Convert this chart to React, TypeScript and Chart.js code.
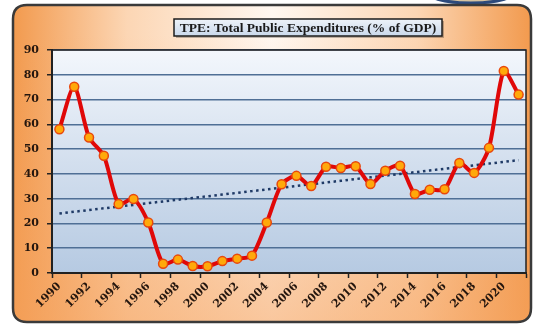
import { useEffect, useRef } from "react";
import { Chart, registerables } from "chart.js";

Chart.register(...registerables);

const TITLE = "TPE: Total Public Expenditures (% of GDP)";

const years = [
  "1990", "1991", "1992", "1993", "1994", "1995", "1996", "1997",
  "1998", "1999", "2000", "2001", "2002", "2003", "2004", "2005",
  "2006", "2007", "2008", "2009", "2010", "2011", "2012", "2013",
  "2014", "2015", "2016", "2017", "2018", "2019", "2020", "2021",
];

const tpe = [
  58.0, 75.2, 54.7, 47.3, 27.8, 29.9, 20.4, 3.7,
  5.4, 2.8, 2.7, 4.8, 5.8, 7.0, 20.4, 35.8,
  39.2, 35.1, 42.9, 42.4, 43.1, 35.9, 41.3, 43.3,
  31.9, 33.6, 33.8, 44.4, 40.4, 50.5, 81.5, 72.0,
];

const yMin = 0;
const yMax = 90;
const yStep = 10;

// linear trendline (least squares) computed from the series, as the source chart shows
function linearTrend(vals: number[]): number[] {
  const n = vals.length;
  const mx = (n - 1) / 2;
  const my = vals.reduce((a, b) => a + b, 0) / n;
  let sxy = 0;
  let sxx = 0;
  vals.forEach((v, i) => {
    sxy += (i - mx) * (v - my);
    sxx += (i - mx) * (i - mx);
  });
  const slope = sxy / sxx;
  return vals.map((_, i) => my + slope * (i - mx));
}

function roundRectPath(ctx: CanvasRenderingContext2D, x: number, y: number, w: number, h: number, r: number) {
  ctx.beginPath();
  ctx.moveTo(x + r, y);
  ctx.lineTo(x + w - r, y);
  ctx.quadraticCurveTo(x + w, y, x + w, y + r);
  ctx.lineTo(x + w, y + h - r);
  ctx.quadraticCurveTo(x + w, y + h, x + w - r, y + h);
  ctx.lineTo(x + r, y + h);
  ctx.quadraticCurveTo(x, y + h, x, y + h - r);
  ctx.lineTo(x, y + r);
  ctx.quadraticCurveTo(x, y, x + r, y);
  ctx.closePath();
}

const TICK_FONT = { family: '"DejaVu Serif", serif', size: 11, weight: "bold" as const };
const TEXT_COLOR = "#24160e";

const decorPlugin = {
  id: "decor",
  beforeDraw(chart: any) {
    const ctx: CanvasRenderingContext2D = chart.ctx;
    const W = chart.width;
    const H = chart.height;
    const a = chart.chartArea;
    ctx.save();
    ctx.fillStyle = "#ffffff";
    ctx.fillRect(0, 0, W, H);

    // small logo fragment at top
    ctx.save();
    ctx.beginPath();
    ctx.rect(0, 0, W, 5);
    ctx.clip();
    ctx.beginPath();
    ctx.ellipse(471, -10, 47, 13, 0, 0, Math.PI * 2);
    ctx.fillStyle = "#d6c3a0";
    ctx.fill();
    ctx.lineWidth = 3;
    ctx.strokeStyle = "#2c4a7c";
    ctx.stroke();
    ctx.restore();

    // outer frame with gradient
    const fx = 13, fy = 5, fw = 518, fh = 317, fr = 14;
    ctx.save();
    roundRectPath(ctx, fx, fy, fw, fh, fr);
    ctx.clip();
    const hg = ctx.createLinearGradient(fx, 0, fx + fw, 0);
    hg.addColorStop(0, "#f29a4e");
    hg.addColorStop(0.22, "#fcd6b4");
    hg.addColorStop(0.5, "#fff7f0");
    hg.addColorStop(0.78, "#fcd6b4");
    hg.addColorStop(1, "#f29a4e");
    ctx.fillStyle = hg;
    ctx.fillRect(fx, fy, fw, fh);
    const vg = ctx.createLinearGradient(0, fy + 30, 0, fy + fh);
    vg.addColorStop(0, "rgba(245,160,90,0)");
    vg.addColorStop(1, "rgba(245,160,90,0.55)");
    ctx.fillStyle = vg;
    ctx.fillRect(fx, fy, fw, fh);
    ctx.restore();
    roundRectPath(ctx, fx, fy, fw, fh, fr);
    ctx.lineWidth = 2.5;
    ctx.strokeStyle = "#3a3a3a";
    ctx.stroke();

    // plot area gradient
    const pg = ctx.createLinearGradient(0, a.top, 0, a.bottom);
    pg.addColorStop(0, "#f3f7fc");
    pg.addColorStop(0.5, "#d3dfee");
    pg.addColorStop(1, "#b6cae2");
    ctx.fillStyle = pg;
    ctx.fillRect(a.left, a.top, a.right - a.left, a.bottom - a.top);

    // title box
    const bx = 174, by = 19, bw = 268, bh = 17;
    ctx.fillStyle = "rgba(0,0,0,0.25)";
    ctx.fillRect(bx + 2, by + 2, bw, bh);
    const tg = ctx.createLinearGradient(0, by, 0, by + bh);
    tg.addColorStop(0, "#eef3f9");
    tg.addColorStop(1, "#c9d8eb");
    ctx.fillStyle = tg;
    ctx.fillRect(bx, by, bw, bh);
    ctx.lineWidth = 1.5;
    ctx.strokeStyle = "#1c1c1c";
    ctx.strokeRect(bx, by, bw, bh);
    let size = 15;
    ctx.font = `bold ${size}px "Liberation Serif", serif`;
    while (ctx.measureText(TITLE).width > 259 && size > 8) {
      size -= 0.5;
      ctx.font = `bold ${size}px "Liberation Serif", serif`;
    }
    ctx.fillStyle = "#1a1a1a";
    ctx.textAlign = "center";
    ctx.textBaseline = "middle";
    ctx.fillText(TITLE, bx + bw / 2, by + bh / 2 + 1);
    ctx.restore();
  },
  beforeDatasetsDraw(chart: any) {
    const ctx: CanvasRenderingContext2D = chart.ctx;
    const a = chart.chartArea;
    ctx.save();
    ctx.lineWidth = 1.5;
    ctx.strokeStyle = "#222222";
    ctx.strokeRect(a.left, a.top, a.right - a.left, a.bottom - a.top);
    ctx.restore();
  },
};

export default function App() {
  const ref = useRef<HTMLCanvasElement | null>(null);

  useEffect(() => {
    document.body.style.margin = "0";
    const canvas = ref.current;
    if (!canvas) return;
    const trend = linearTrend(tpe);
    const chart = new Chart(canvas, {
      type: "line",
      data: {
        labels: years,
        datasets: [
          {
            label: "TPE",
            data: tpe,
            borderColor: "#e00808",
            borderWidth: 4,
            tension: 0.25,
            pointRadius: 4.5,
            pointBackgroundColor: "#ffa90a",
            pointBorderColor: "#e8480c",
            pointBorderWidth: 1.5,
          },
          {
            label: "Trend",
            data: trend,
            borderColor: "#1f3a66",
            borderWidth: 2.5,
            borderDash: [2.5, 3.5],
            pointRadius: 0,
            tension: 0,
          },
        ],
      },
      options: {
        responsive: false,
        animation: false,
        events: [],
        layout: { padding: { left: 13, right: 11, top: 50, bottom: 0 } },
        plugins: {
          legend: { display: false },
          title: { display: false },
          tooltip: { enabled: false },
        },
        scales: {
          x: {
            type: "category",
            offset: true,
            afterFit(scale: any) {
              scale.height = 51;
            },
            border: { display: true, color: "#222222", width: 2 },
            grid: {
              display: true,
              offset: true,
              drawOnChartArea: false,
              drawTicks: true,
              tickLength: 5,
              tickWidth: 1.5,
              tickColor: (c: any) =>
                c.index === undefined || c.index % 2 === 0 ? "#222222" : "rgba(0,0,0,0)",
            },
            ticks: {
              autoSkip: false,
              minRotation: 45,
              maxRotation: 45,
              padding: 2,
              color: TEXT_COLOR,
              font: TICK_FONT,
              callback: (_v: any, i: number) => (i % 2 === 0 ? years[i] : ""),
            },
          },
          y: {
            min: yMin,
            max: yMax,
            afterFit(scale: any) {
              scale.width = 39;
            },
            border: { display: true, color: "#222222", width: 2 },
            grid: {
              color: "#4f6f95",
              lineWidth: 1.5,
              drawTicks: true,
              tickLength: 5,
              tickColor: "#222222",
              tickWidth: 1.5,
            },
            ticks: {
              stepSize: yStep,
              padding: 8,
              color: TEXT_COLOR,
              font: TICK_FONT,
            },
          },
        },
      },
      plugins: [decorPlugin],
    });
    return () => chart.destroy();
  }, []);

  return <canvas ref={ref} width={537} height={324} style={{ display: "block" }} />;
}
